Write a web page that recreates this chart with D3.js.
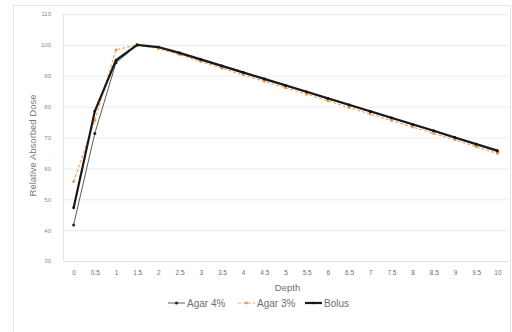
<!DOCTYPE html>
<html>
<head>
<meta charset="utf-8">
<script src="https://cdn.jsdelivr.net/npm/d3@7"></script>
<style>
  body { margin: 0; background: #fff; }
  svg { display: block; font-family: "Liberation Sans", Arial, sans-serif; }
</style>
</head>
<body>
<div id="chart"></div>
<script>
// depth categories (x axis)
const depths = ['0', '0.5', '1', '1.5', '2', '2.5', '3', '3.5', '4', '4.5', '5',
                '5.5', '6', '6.5', '7', '7.5', '8', '8.5', '9', '9.5', '10'];

// series values
const agar4 = [41.7, 71.3, 94.2, 100, 99.1, 97.2, 95.1, 93.0, 90.9, 88.8, 86.7,
               84.6, 82.5, 80.4, 78.3, 76.2, 74.1, 72.0, 69.8, 67.6, 65.4];
const agar3 = [55.7, 75.5, 98.4, 100, 98.8, 96.8, 94.6, 92.4, 90.3, 88.2, 86.1,
               84.0, 81.9, 79.7, 77.6, 75.5, 73.4, 71.3, 69.2, 67.0, 64.8];
const bolus = [47.2, 78.5, 95.0, 100, 99.3, 97.4, 95.3, 93.2, 91.1, 89.0, 86.9,
               84.8, 82.7, 80.6, 78.5, 76.4, 74.3, 72.2, 70.0, 67.9, 65.8];

const yTicks = [30, 40, 50, 60, 70, 80, 90, 100, 110];

const width = 512, height = 332;
const plot = { left: 63, right: 508, top: 14, bottom: 261 };

const svg = d3.select('#chart')
    .append('svg')
    .attr('width', width)
    .attr('height', height);

// chart border
svg.append('rect')
    .attr('x', 13.5).attr('y', 5.5)
    .attr('width', 497).attr('height', 330)
    .attr('fill', 'none')
    .attr('stroke', '#e4e4e4');

const x = d3.scalePoint()
    .domain(depths)
    .range([plot.left, plot.right])
    .padding(0.5);

const y = d3.scaleLinear()
    .domain([30, 110])
    .range([plot.bottom, plot.top]);

// gridlines
svg.append('g')
    .selectAll('line')
    .data(yTicks.filter(d => d > 30))
    .enter()
    .append('line')
    .attr('x1', plot.left).attr('x2', plot.right)
    .attr('y1', d => y(d) + 0.5).attr('y2', d => y(d) + 0.5)
    .attr('stroke', '#ececec');

// y axis
const yAxis = svg.append('g')
    .attr('transform', `translate(${plot.left},0)`)
    .call(d3.axisLeft(y).tickValues(yTicks).tickSize(0).tickPadding(12));
yAxis.select('.domain').attr('stroke', '#dbe6f2');
yAxis.selectAll('text').attr('fill', '#8a8a8a').attr('font-size', '6px');

// x axis
const xAxis = svg.append('g')
    .attr('transform', `translate(0,${plot.bottom})`)
    .call(d3.axisBottom(x).tickSize(0).tickPadding(9));
xAxis.select('.domain').attr('stroke', '#e2e2e2');
xAxis.selectAll('text').attr('fill', '#6e6e6e').attr('font-size', '6.5px');

// axis titles
svg.append('text')
    .attr('transform', `translate(36,${(plot.top + plot.bottom) / 2 + 8}) rotate(-90)`)
    .attr('text-anchor', 'middle')
    .attr('font-size', '9.5px')
    .attr('fill', '#7a7a7a')
    .text('Relative Absorbed Dose');

svg.append('text')
    .attr('x', (plot.left + plot.right) / 2 + 2)
    .attr('y', 291)
    .attr('text-anchor', 'middle')
    .attr('font-size', '9.5px')
    .attr('fill', '#6e6e6e')
    .text('Depth');

const line = d3.line()
    .x((d, i) => x(depths[i]))
    .y(d => y(d));

const series = [
    { name: 'Agar 4%', values: agar4, color: '#5a5a5a', width: 1, dash: null, marker: 1.5, markerColor: '#222' },
    { name: 'Agar 3%', values: agar3, color: '#f2a65e', width: 1.2, dash: '3,2', marker: 1.4, markerColor: '#e8944a' },
    { name: 'Bolus', values: bolus, color: '#1a1a1a', width: 2.2, dash: null, marker: 1.3, markerColor: '#111' }
];

series.forEach(s => {
    svg.append('path')
        .datum(s.values)
        .attr('d', line)
        .attr('fill', 'none')
        .attr('stroke', s.color)
        .attr('stroke-width', s.width)
        .attr('stroke-dasharray', s.dash);

    svg.append('g')
        .selectAll('circle')
        .data(s.values)
        .enter()
        .append('circle')
        .attr('cx', (d, i) => x(depths[i]))
        .attr('cy', d => y(d))
        .attr('r', s.marker)
        .attr('fill', s.markerColor);
});

// legend
const legendX = [168, 238, 305];
const legend = svg.append('g').attr('transform', 'translate(0,303)');
series.forEach((s, i) => {
    const g = legend.append('g').attr('transform', `translate(${legendX[i]},0)`);
    g.append('line')
        .attr('x1', 0).attr('x2', 17)
        .attr('y1', 0).attr('y2', 0)
        .attr('stroke', s.color)
        .attr('stroke-width', s.width)
        .attr('stroke-dasharray', s.dash);
    g.append('circle')
        .attr('cx', 8.5).attr('cy', 0)
        .attr('r', s.marker)
        .attr('fill', s.markerColor);
    g.append('text')
        .attr('x', 19)
        .attr('y', 3.5)
        .attr('font-size', '10px')
        .attr('fill', '#6e6e6e')
        .text(s.name);
});
</script>
</body>
</html>
